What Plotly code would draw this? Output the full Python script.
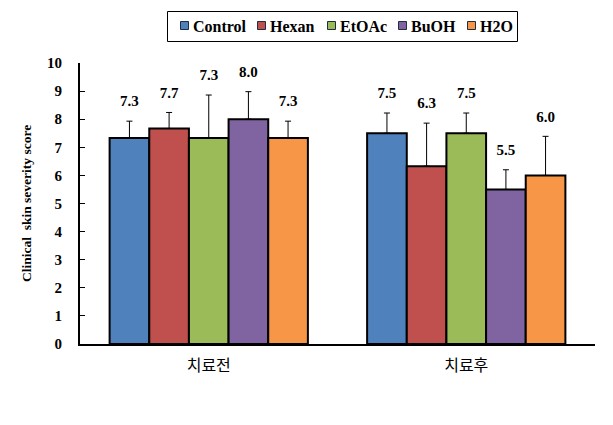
import plotly.graph_objects as go

categories = ["치료전", "치료후"]
series = ["Control", "Hexan", "EtOAc", "BuOH", "H2O"]
means = {
    "Control": [7.33, 7.5],
    "Hexan": [7.67, 6.33],
    "EtOAc": [7.33, 7.5],
    "BuOH": [8.0, 5.5],
    "H2O": [7.33, 6.0],
}
errors = {
    "Control": [0.6, 0.72],
    "Hexan": [0.57, 1.53],
    "EtOAc": [1.53, 0.72],
    "BuOH": [0.98, 0.7],
    "H2O": [0.6, 1.39],
}
colors = {
    "Control": "#4F81BD",
    "Hexan": "#C0504D",
    "EtOAc": "#9BBB59",
    "BuOH": "#8064A2",
    "H2O": "#F79646",
}
yticks = list(range(0, 11))

serif = "Liberation Serif, Times New Roman, serif"

W, H = 613, 425
ML, MR, MT, MB = 80, 18, 63, 81
PW, PH = W - ML - MR, H - MT - MB


def px_x(px):
    return (px - ML) / PW


def px_y(py):
    return (H - MB - py) / PH


fig = go.Figure()
for s in series:
    fig.add_trace(go.Bar(
        name=s,
        x=categories,
        y=means[s],
        marker=dict(color=colors[s], line=dict(color="black", width=2)),
        error_y=dict(type="data", array=errors[s], arrayminus=[0, 0], symmetric=False,
                     color="black", thickness=1, width=3),
        offsetgroup=s,
        showlegend=False,
    ))

# value labels above error bars
for s in series:
    fig.add_trace(go.Scatter(
        x=categories,
        y=[m + e for m, e in zip(means[s], errors[s])],
        mode="markers+text",
        marker=dict(size=16, color="rgba(0,0,0,0)"),
        text=[f"{v:.1f}" for v in means[s]],
        textposition="top center",
        textfont=dict(family=serif, size=15, color="black", weight="bold"),
        showlegend=False,
        hoverinfo="skip",
        offsetgroup=s,
    ))

# custom legend (compact, like the original)
shapes = [dict(type="rect", xref="paper", yref="paper",
               x0=px_x(167.5), x1=px_x(517.5), y0=px_y(41.5), y1=px_y(11.5),
               line=dict(color="black", width=1), fillcolor="white")]
annotations = []
legend_starts = [180, 257, 327, 398, 467]
for s, x0 in zip(series, legend_starts):
    shapes.append(dict(type="rect", xref="paper", yref="paper",
                       x0=px_x(x0 + 0.5), x1=px_x(x0 + 8.5), y0=px_y(29.5), y1=px_y(21.5),
                       line=dict(color="#1F2D3D", width=1), fillcolor=colors[s]))
    annotations.append(dict(text=s, xref="paper", yref="paper",
                            x=px_x(x0 + 11), y=px_y(26), xanchor="left", yanchor="middle",
                            showarrow=False,
                            font=dict(family=serif, size=16, color="black", weight="bold")))

fig.update_layout(
    width=W, height=H,
    margin=dict(l=ML, r=MR, t=MT, b=MB),
    paper_bgcolor="white", plot_bgcolor="white",
    barmode="group", bargap=0.23, bargroupgap=0,
    scattermode="group", scattergap=0.23,
    showlegend=False,
    shapes=shapes,
    annotations=annotations,
    xaxis=dict(
        showline=True, linecolor="black", linewidth=2, ticks="",
        ticklabelstandoff=6,
        tickfont=dict(family="Noto Sans CJK KR", size=16, color="black"),
    ),
    yaxis=dict(
        range=[0, 10], tickvals=yticks, ticktext=[str(t) for t in yticks],
        showline=True, linecolor="black", linewidth=2,
        ticks="inside", ticklen=5, tickcolor="black", tickwidth=1,
        ticklabelstandoff=13,
        showgrid=False, zeroline=False,
        tickfont=dict(family=serif, size=15, color="black", weight="bold"),
        title=dict(text="Clinical  skin severity score",
                   font=dict(family=serif, size=13.5, color="black", weight="bold"),
                   standoff=12),
    ),
)

fig.write_html("out.html")
